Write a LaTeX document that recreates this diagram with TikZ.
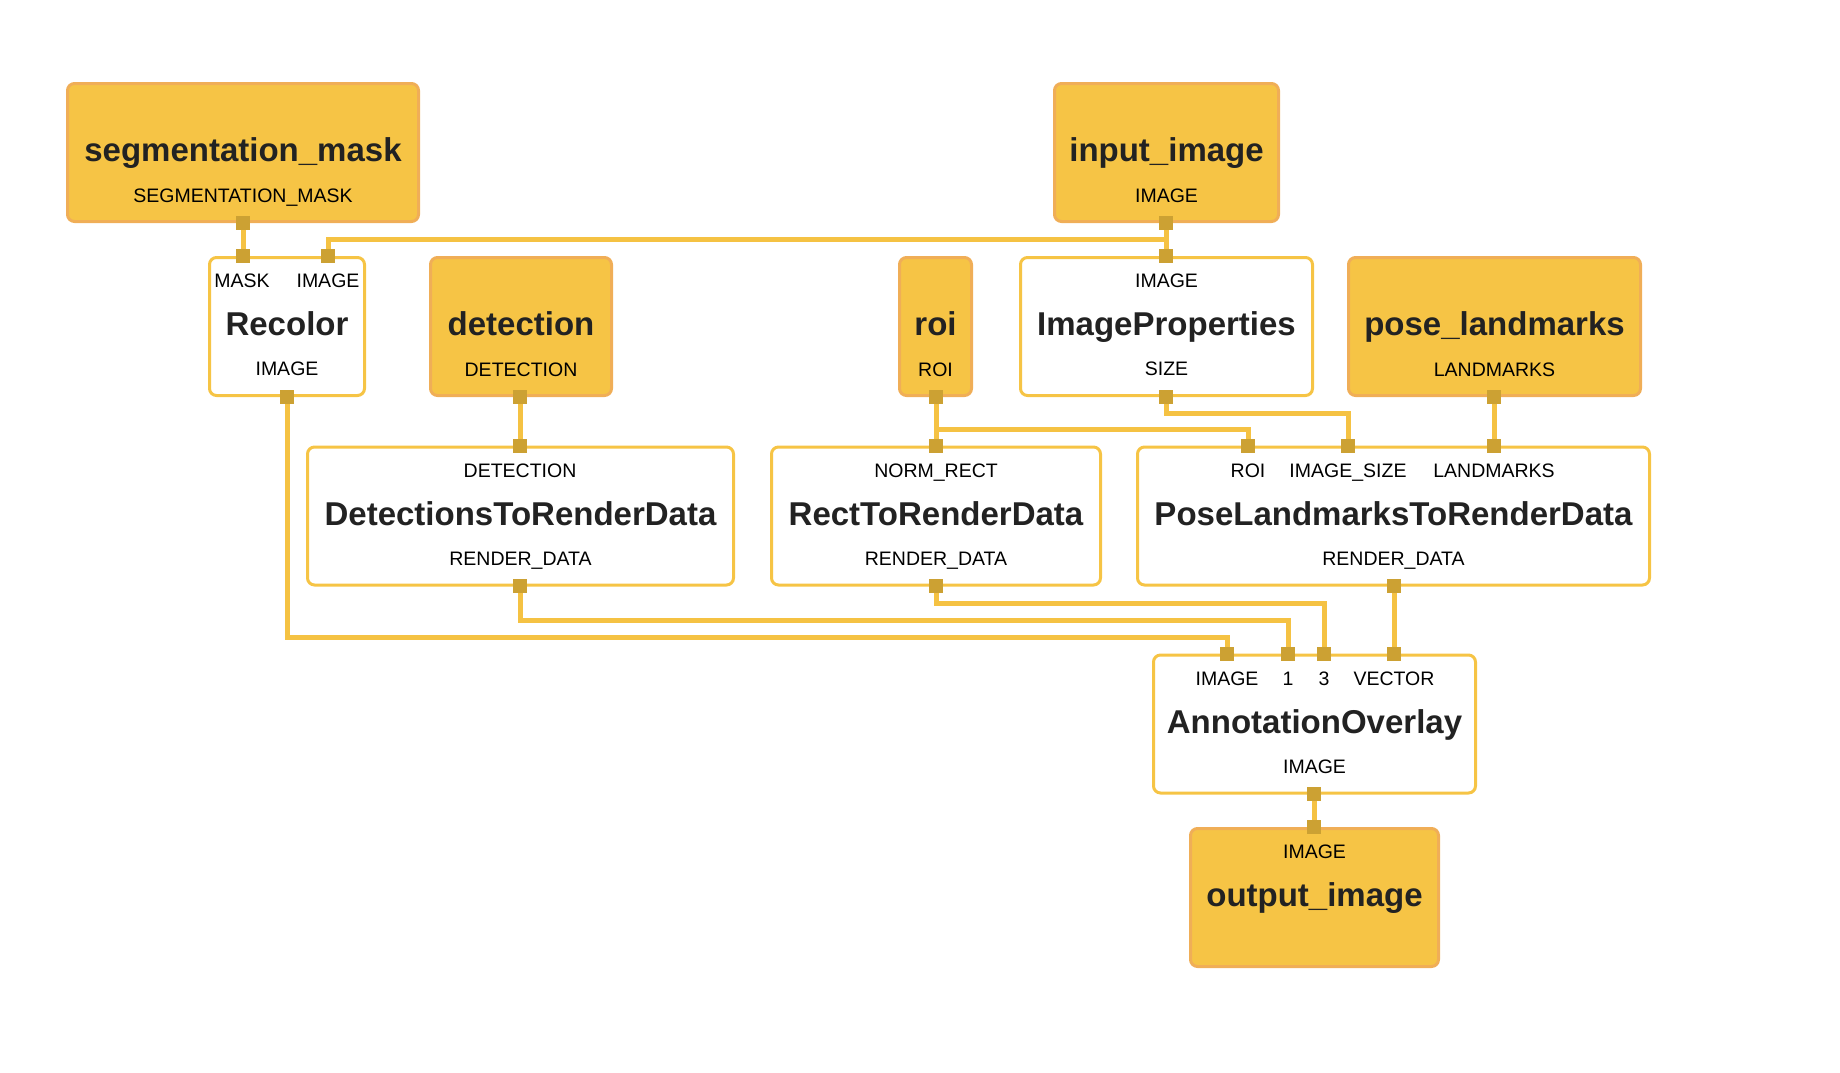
\documentclass[tikz,border=0pt]{standalone}
\usepackage{fontspec}
\setmainfont{Liberation Sans}
\usetikzlibrary{calc}
\definecolor{gYellow}{HTML}{F6C445}
\definecolor{gOrange}{HTML}{F0AE57}
\definecolor{gPort}{HTML}{CCA133}
\definecolor{gWire}{HTML}{F5C243}
\definecolor{gInk}{HTML}{222222}
\tikzset{
    srcbox/.style={
            draw=gOrange,
            fill=gYellow,
            line width=3pt,
            rounded corners=7pt,
            inner sep=0pt, % empty box, text set apart
            minimum width={#1},
            minimum height=138pt
        },
    opbox/.style={
            draw=gYellow,
            fill=white,
            line width=3pt,
            rounded corners=7pt,
            inner sep=0pt, % empty box, text set apart
            minimum width={#1},
            minimum height=138pt
        },
    port/.style={
            fill=gPort,
            inner sep=0pt, % no inside-rectangle
            minimum size=14pt
        },
    wire/.style={
            line width=5pt,
            draw=gWire
        },
}
\tikzset{
    title/.style={
            anchor=base,
            text=gInk,
            font=\bfseries\fontsize{33}{40}\selectfont
        },
    tag/.style={
            anchor=base,
            font=\fontsize{19.5}{24}\selectfont
        }
}

\begin{document}
\begin{tikzpicture}[
        x=1pt,
        y=-1pt,
    ]
    \useasboundingbox (0,0) rectangle (1840,1072);
    % inputs
    \node[srcbox=351] (seg) at (243,152.5) {};
    \node[title] at (243,161) {segmentation\_mask};
    \node[tag] at (243,202) {SEGMENTATION\_MASK};
    \node[srcbox=224] (img) at (1166.5,152.5) {};
    \node[title] at (1166.5,161) {input\_image};
    \node[tag] at (1166.5,202) {IMAGE};
    \node[srcbox=181] (det) at (521,326.5) {};
    \node[title] at (521,335) {detection};
    \node[tag] at (521,376) {DETECTION};
    \node[srcbox=72] (roi) at (935.5,326.5) {};
    \node[title] at (935.5,335) {roi};
    \node[tag] at (935.5,376) {ROI};
    \node[srcbox=292] (pose) at (1494.5,326.5) {};
    \node[title] at (1494.5,335) {pose\_landmarks};
    \node[tag] at (1494.5,376) {LANDMARKS};
    % first row of calculators
    \node[opbox=155] (rec) at (287,326.5) {};
    \node[tag] at (242,287) {MASK};
    \node[tag] at (328,287) {IMAGE};
    \node[title] at (287,335) {Recolor};
    \node[tag] at (287,375) {IMAGE};
    \node[opbox=292] (prop) at (1166.5,326.5) {};
    \node[tag] at (1166.5,287) {IMAGE};
    \node[title] at (1166.5,335) {ImageProperties};
    \node[tag] at (1166.5,375) {SIZE};
    % render data row
    \node[opbox=426] (det2) at (520.5,516) {};
    \node[tag] at (520,477) {DETECTION};
    \node[title] at (520.5,525) {DetectionsToRenderData};
    \node[tag] at (520.5,565) {RENDER\_DATA};
    \node[opbox=329] (rect) at (936,516) {};
    \node[tag] at (936,477) {NORM\_RECT};
    \node[title] at (936,525) {RectToRenderData};
    \node[tag] at (936,565) {RENDER\_DATA};
    \node[opbox=512] (pose2) at (1393.5,516) {};
    \node[tag] at (1248,477) {ROI};
    \node[tag] at (1348,477) {IMAGE\_SIZE};
    \node[tag] at (1494,477) {LANDMARKS};
    \node[title] at (1393.5,525) {PoseLandmarksToRenderData};
    \node[tag] at (1393.5,565) {RENDER\_DATA};
    % overlay and output
    \node[opbox=322] (ann) at (1314.5,724) {};
    \node[tag] at (1227,685) {IMAGE};
    \node[tag] at (1288,685) {1};
    \node[tag] at (1324,685) {3};
    \node[tag] at (1394,685) {VECTOR};
    \node[title] at (1314.5,733) {AnnotationOverlay};
    \node[tag] at (1314.5,773) {IMAGE};
    \node[srcbox=248] (out) at (1314.5,897.5) {};
    \node[tag] at (1314.5,858) {IMAGE};
    \node[title] at (1314.5,906) {output\_image};
    % ports
    \node[port] (seg-out) at (243,223) {};
    \node[port] (img-out) at (1166,223) {};
    \node[port] (rec-mask) at (243,256) {};
    \node[port] (rec-img) at (328,256) {};
    \node[port] (rec-out) at (287,397) {};
    \node[port] (det-out) at (520,397) {};
    \node[port] (roi-out) at (936,397) {};
    \node[port] (prop-in) at (1166,256) {};
    \node[port] (prop-out) at (1166,397) {};
    \node[port] (pose-out) at (1494,397) {};
    \node[port] (det2-in) at (520,446) {};
    \node[port] (det2-out) at (520,586) {};
    \node[port] (rect-in) at (936,446) {};
    \node[port] (rect-out) at (936,586) {};
    \node[port] (pose2-roi) at (1248,446) {};
    \node[port] (pose2-size) at (1348,446) {};
    \node[port] (pose2-lm) at (1494,446) {};
    \node[port] (pose2-out) at (1394,586) {};
    \node[port] (ann-img) at (1227,654) {};
    \node[port] (ann-1) at (1288,654) {};
    \node[port] (ann-3) at (1324,654) {};
    \node[port] (ann-vec) at (1394,654) {};
    \node[port] (ann-out) at (1314,794) {};
    \node[port] (out-in) at (1314,827) {};
    % wires
    \draw[wire] (seg-out) -- (rec-mask);
    \draw[wire] (img-out) -- (prop-in);
    \draw[wire] (img-out) -- ++(0,16) -| (rec-img);
    \draw[wire] (det-out) -- (det2-in);
    \draw[wire] (roi-out) -- (rect-in);
    \draw[wire] (roi-out) -- ++(0,32) -| (pose2-roi);
    \draw[wire] (prop-out) -- ++(0,16) -| (pose2-size);
    \draw[wire] (pose-out) -- (pose2-lm);
    \draw[wire] (rec-out) -- ++(0,240) -| (ann-img);
    \draw[wire] (det2-out) -- ++(0,34) -| (ann-1);
    \draw[wire] (rect-out) -- ++(0,17) -| (ann-3);
    \draw[wire] (pose2-out) -- (ann-vec);
    \draw[wire] (ann-out) -- (out-in);
\end{tikzpicture}
\end{document}
